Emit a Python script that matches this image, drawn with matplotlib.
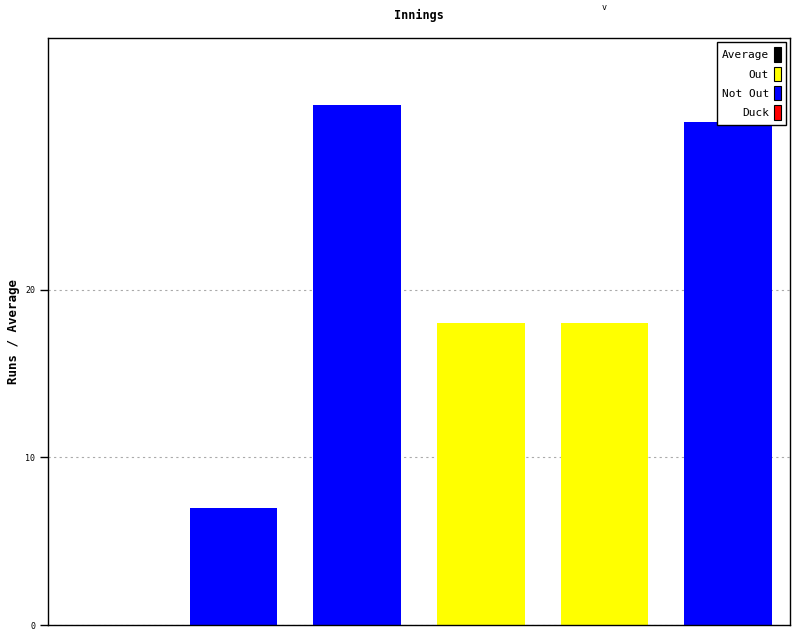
import matplotlib
matplotlib.use("Agg")
import matplotlib.pyplot as plt
from matplotlib.patches import Patch

# innings data
innings = [1, 2, 3, 4, 5, 6]
runs = [0, 7, 31, 18, 18, 30]
status = ["Duck", "Not Out", "Not Out", "Out", "Out", "Not Out"]

colours = {"Average": "black", "Out": "yellow", "Not Out": "blue", "Duck": "red"}
legend_order = ["Average", "Out", "Not Out", "Duck"]

plt.rcParams['font.family'] = ['DejaVu Sans Mono']

fig = plt.figure(figsize=(8, 6.4), dpi=100)
ax = fig.add_axes([0.06, 0.0234, 0.9275, 0.9172])

ax.bar(innings, runs, width=0.71, color=[colours[s] for s in status])

ax.set_xlim(0.5, 6.5)
ax.set_ylim(0, 35)
ax.set_xticks([])
ax.set_yticks([0, 10, 20])
ax.tick_params(axis='y', labelsize=6, length=6, width=1, pad=3)
ax.yaxis.grid(True, linestyle=(0, (2, 3)), color='#aaaaaa', linewidth=0.8)
ax.set_axisbelow(True)
for sp in ax.spines.values():
    sp.set_linewidth(1)

ax.set_title("Innings", fontsize=8.5, fontweight='bold', pad=14)
ax.set_ylabel("Runs / Average", fontsize=9, fontweight='bold')
ax.yaxis.set_label_coords(-0.038, 0.5)

handles = [Patch(facecolor=colours[k], edgecolor='black', linewidth=0.8) for k in legend_order]
leg = ax.legend(handles, legend_order, loc='upper right', markerfirst=False,
                fontsize=8, handlelength=0.55, handleheight=1.6, handletextpad=0.5,
                labelspacing=0.45, borderpad=0.45, fancybox=False, shadow=False,
                edgecolor='black', framealpha=1, borderaxespad=0.4)
for t in leg.get_texts():
    t.set_ha('right')
leg.get_frame().set_linewidth(1)

fig.text(0.755, 0.996, "v", fontsize=6, ha='center', va='top')

fig.savefig("out.png", dpi=100)
